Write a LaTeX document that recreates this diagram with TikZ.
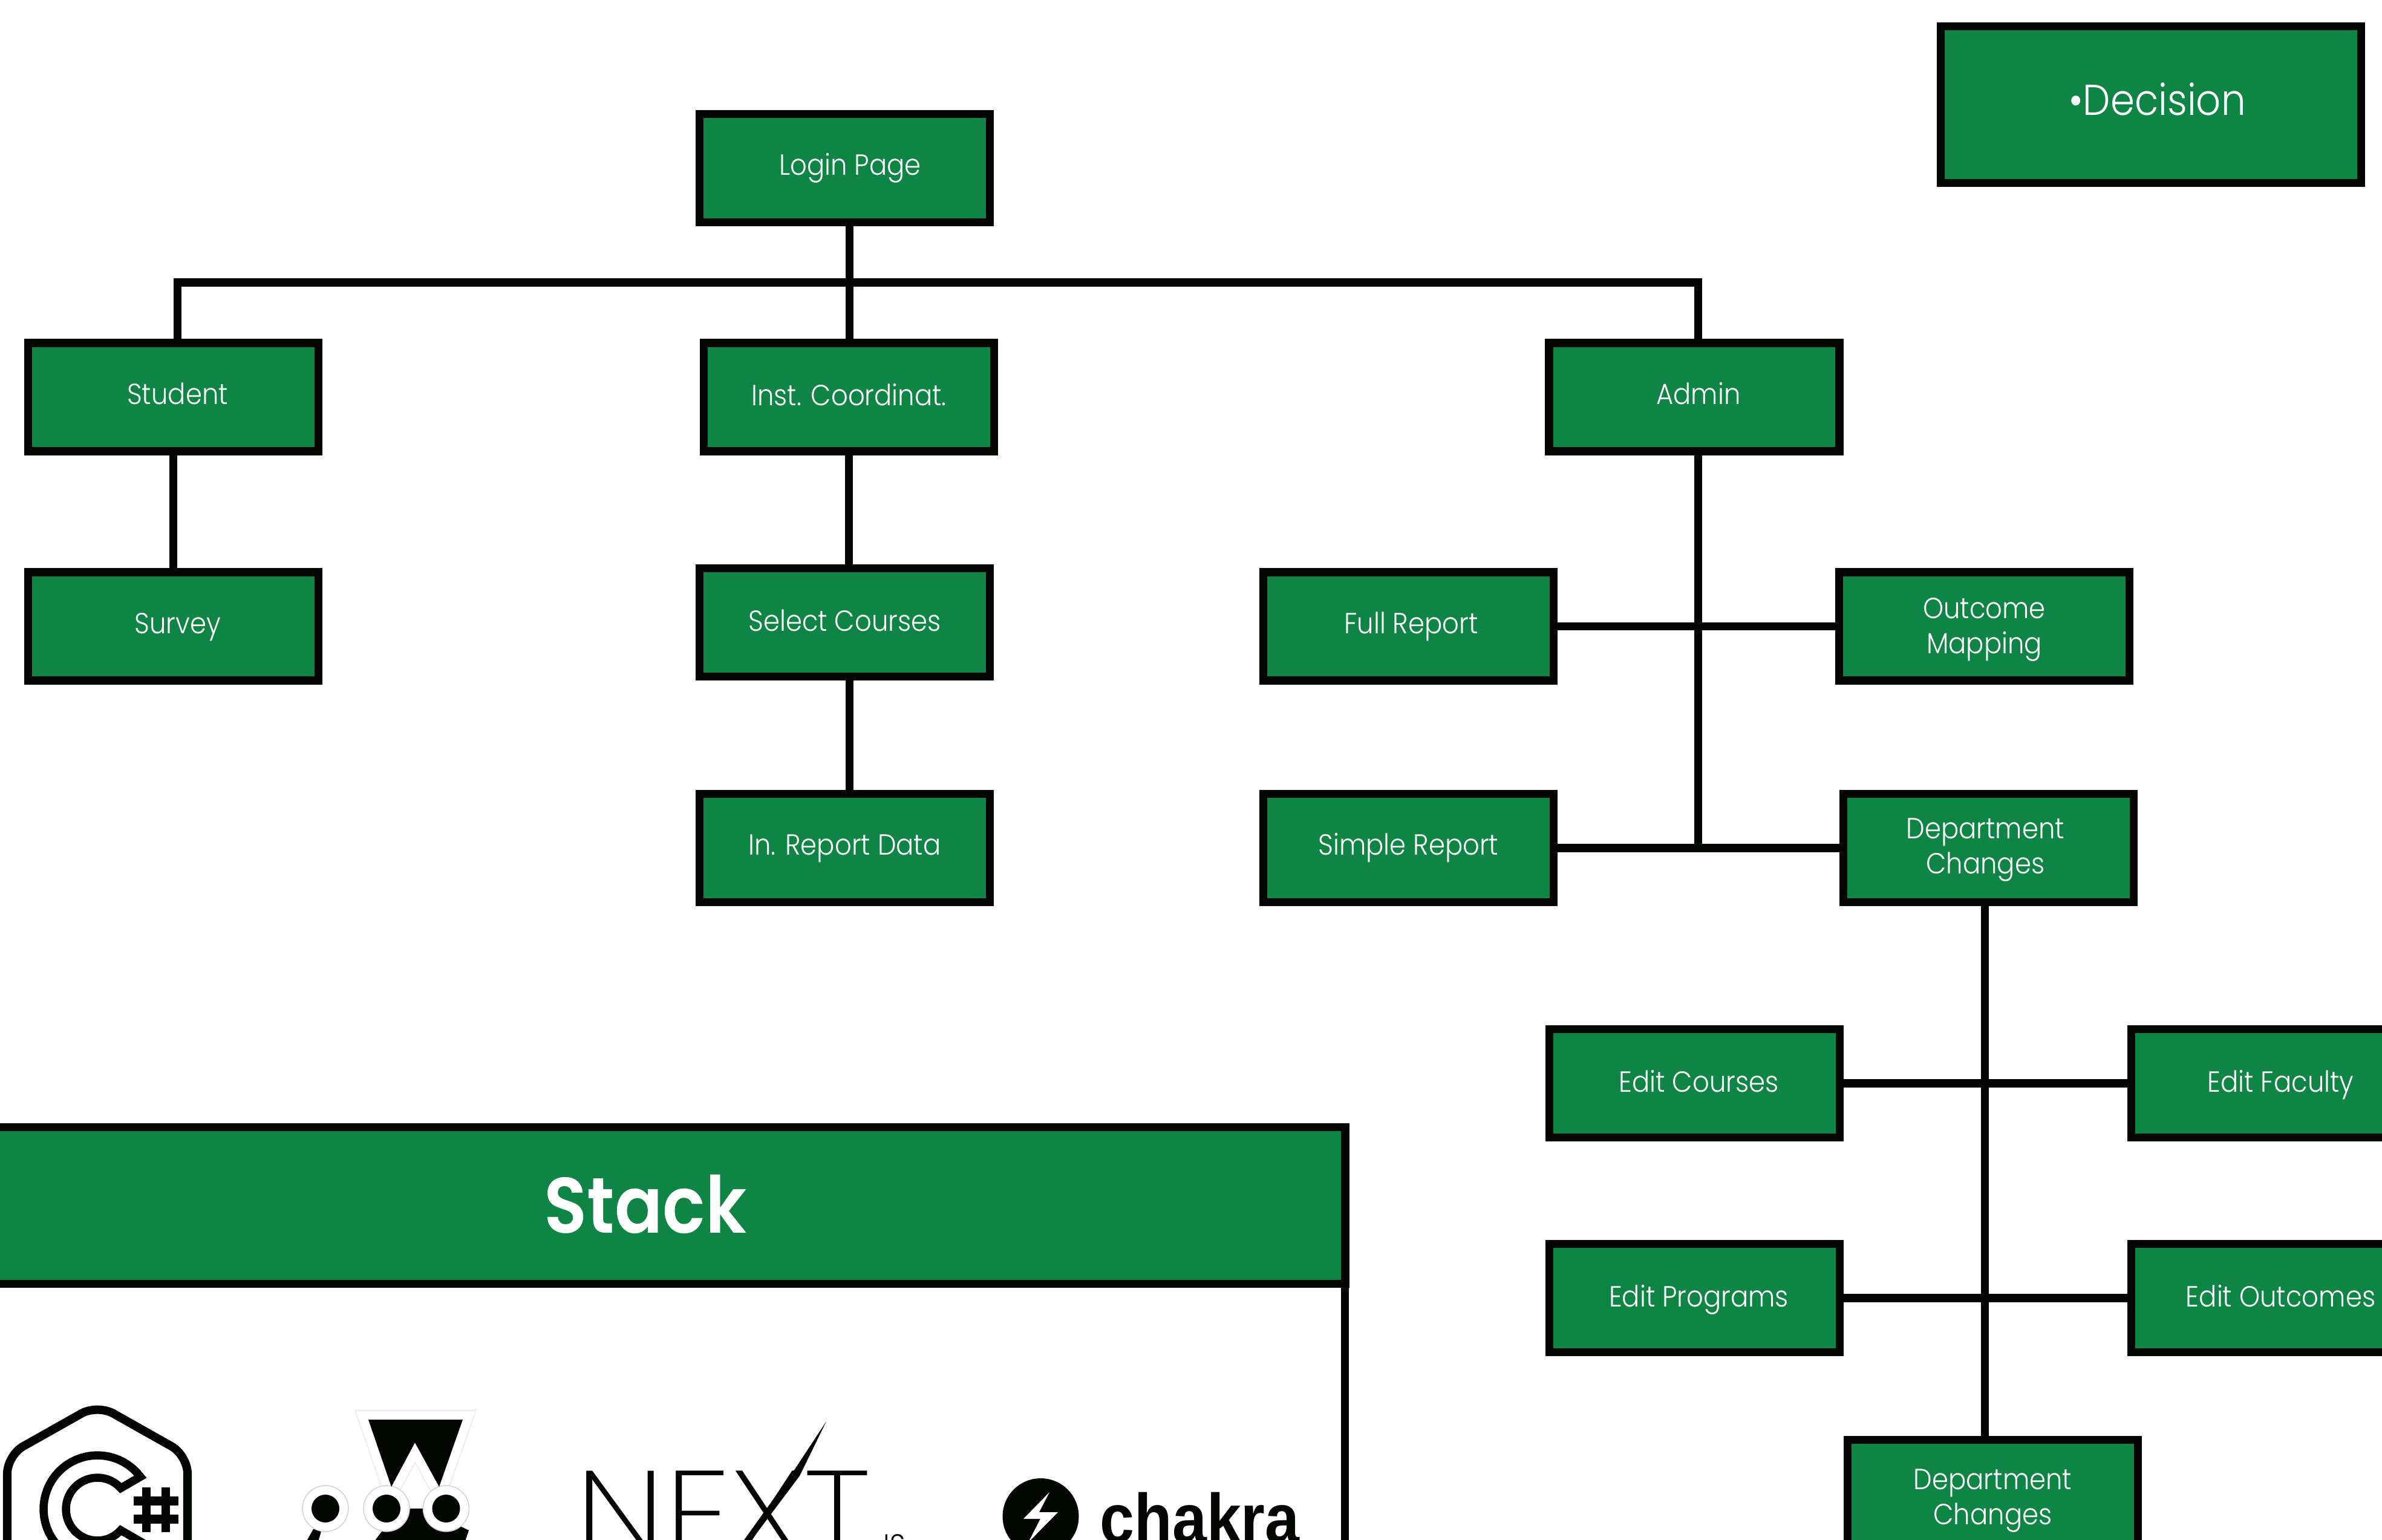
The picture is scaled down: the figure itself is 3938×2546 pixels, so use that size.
\documentclass[tikz,border=0pt]{standalone}
\usepackage{fontspec}
\usepackage{xcolor}
\setmainfont{Poppins}[UprightFont=* Light,BoldFont=* SemiBold,FakeStretch=0.9]
\newfontfamily\nextfont{Poppins ExtraLight}
\newfontfamily\chakrafont{Liberation Sans}
\definecolor{boxgreen}{HTML}{0E8544}
\definecolor{inkblack}{HTML}{030502}

\begin{document}
\begin{tikzpicture}[
    x=0.01cm, y=-0.01cm,
    box/.style={draw=inkblack, line width=0.135cm, fill=boxgreen, text=white, minimum width=4.795cm, minimum height=1.785cm, align=center, inner sep=0pt, font=\fontsize{13.7}{16.5}\selectfont},
    oneline/.style={box, text height=12pt, text depth=5.2pt},
    lowline/.style={box, text height=12pt, text depth=4pt},
    decision/.style={box, minimum width=6.95cm, minimum height=2.585cm, text height=18pt, text depth=8.3pt, font=\fontsize{20.3}{24}\selectfont},
    stackhead/.style={box, minimum width=23.13cm, minimum height=2.585cm, text height=35pt, text depth=9.4pt, font=\fontsize{37}{44}\selectfont\bfseries},
    link/.style={draw=inkblack, line width=0.135cm},
    logo/.style={fill=inkblack, draw=none},
    halo/.style={draw=gray!25, line width=0.32cm, line join=miter}
  ]
  \useasboundingbox (0,0) rectangle (3938,2546);
  \clip (0,0) rectangle (3938,2546);

  % Main components
  \node[oneline] (login) at (1396.5,278) {\hspace*{5pt}Login Page};
  \node[decision] (decision) at (3556,173) {\hspace*{6pt}•Decision};

  % Roles
  \node[oneline] (student) at (286.5,656.5) {\hspace*{4pt}Student};
  \node[lowline] (inst) at (1403.5,656.5) {Inst. Coordinat.};
  \node[oneline] (admin) at (2801,656.5) {\hspace*{4pt}Admin};

  % Role pages
  \node[oneline] (survey) at (286.5,1035.5) {\hspace*{4pt}Survey};
  \node[lowline] (select) at (1396.5,1029) {Select Courses};
  \node[oneline] (report) at (1396.5,1402) {In. Report Data};
  \node[oneline] (full) at (2328.5,1035.5) {\hspace*{2.5pt}Full Report};
  \node[oneline] (simple) at (2328.5,1402) {Simple Report};
  \node[box] (outcome) at (3280.5,1035.5) {\rule{0pt}{13pt}Outcome\\Mapping};
  \node[box] (dept) at (3287.5,1402) {\rule{0pt}{11.5pt}\hspace*{-3pt}Department\\\hspace*{-3pt}Changes};

  % Department pages
  \node[lowline] (editcourses) at (2801.5,1791) {\hspace*{4pt}Edit Courses};
  \node[lowline] (editfaculty) at (3763.5,1791) {\hspace*{4pt}Edit Faculty};
  \node[lowline] (editprograms) at (2801.5,2146) {\hspace*{4pt}Edit Programs};
  \node[lowline] (editoutcomes) at (3763.5,2146) {\hspace*{4pt}Edit Outcomes};
  \node[box] (deptlast) at (3294.5,2470) {\rule{0pt}{16pt}Department\\Changes};

  % Connections
  \coordinate (rootdrop) at (1404.5,467);
  \coordinate (studentdrop) at (293.5,467);
  \coordinate (admindrop) at (2807.5,467);
  \coordinate (deptdrop) at (3281.5,1496);
  \draw[link] (rootdrop |- login.south) -- (rootdrop |- inst.north);
  \draw[link] (studentdrop |- student.north) -- (studentdrop) -- (admindrop) -- (admindrop |- admin.north);
  \draw[link] (student) -- (survey);
  \draw[link] (inst.south) -- (inst.south |- select.north);
  \draw[link] (rootdrop |- select.south) -- (rootdrop |- report.north);
  \draw[link] (admindrop |- admin.south) -- (admindrop |- simple);
  \draw[link] (full) -- (outcome);
  \draw[link] (simple) -- (dept);
  \draw[link] (deptdrop |- dept.south) -- (deptdrop |- deptlast.north);
  \draw[link] (editcourses) -- (editfaculty);
  \draw[link] (editprograms) -- (editoutcomes);

  % Stack panel
  \node[stackhead] (stack) at (1067,1993) {Stack};
  \coordinate (stackfoot) at (2223.5,2560);
  \draw[link] (stackfoot |- stack.south) -- (stackfoot);

  % C sharp logo
  \draw[inkblack, line width=0.14cm, rounded corners=0.3cm] (12,2600) -- (12,2406) -- (161,2322) -- (310,2406) -- (310,2600);
  \draw[inkblack, line width=0.135cm] plot[domain=37:323,samples=50] ({161+89*cos(\x)},{2495-89*sin(\x)}) -- plot[domain=318:42,samples=50] ({161+52*cos(\x)},{2495-52*sin(\x)}) -- cycle;
  \foreach \barx in {235,267} \fill[inkblack] (\barx,2459) rectangle (\barx+14,2533);
  \foreach \bary in {2474,2504} \fill[inkblack] (221,\bary) rectangle (295,\bary+15);

  % Three dots logo
  \draw[halo] (609,2347) -- (765,2347) -- (726,2458) -- (686,2385) -- (647,2458) -- cycle;
  \draw[white, line width=0.30cm, line join=miter] (609,2347) -- (765,2347) -- (726,2458) -- (686,2385) -- (647,2458) -- cycle;
  \fill[logo] (679,2494) -- (700,2494) -- (775,2530) -- (765,2560) -- (610,2560) -- (640,2520) -- cycle;
  \fill[logo] (518,2528) -- (532,2528) -- (523,2560) -- (500,2560) -- cycle;
  \foreach \dotx in {538,639,737.5} {
    \draw[gray!35, fill=white, line width=0.015cm] (\dotx,2494) circle[radius=38];
  }
  \fill[logo] (609,2347) -- (765,2347) -- (726,2458) -- (686,2385) -- (647,2458) -- cycle;
  \foreach \dotx in {538,639,737.5} {
    \fill[logo] (\dotx,2494) circle[radius=23];
  }

  % Next logo
  \node[anchor=base west, inner sep=0pt, font=\nextfont\fontsize{57}{60}\selectfont, text=inkblack] (nextword) at (951,2572) {\scalebox{1.108}[1]{NEXT}};
  \fill[inkblack] (1366,2350) -- (1322,2440) -- (1232,2560) -- (1220,2560) -- (1312,2432) -- cycle;
  \node[anchor=base, inner sep=0pt, font=\fontsize{14}{16}\selectfont, text=inkblack] (nextjs) at (1473,2571) {JS};

  % Chakra logo
  \fill[inkblack] (1720.5,2507) circle[radius=63];
  \fill[white] (1735,2467) -- (1692,2511) -- (1720,2511) -- (1700,2550) -- (1749,2500) -- (1718,2500) -- cycle;
  \node[anchor=base west, inner sep=0pt, font=\chakrafont\bfseries\fontsize{32.7}{36}\selectfont, text=inkblack] (chakra) at (1818,2550) {\scalebox{0.89}[1]{chakra}};

\end{tikzpicture}
\end{document}
